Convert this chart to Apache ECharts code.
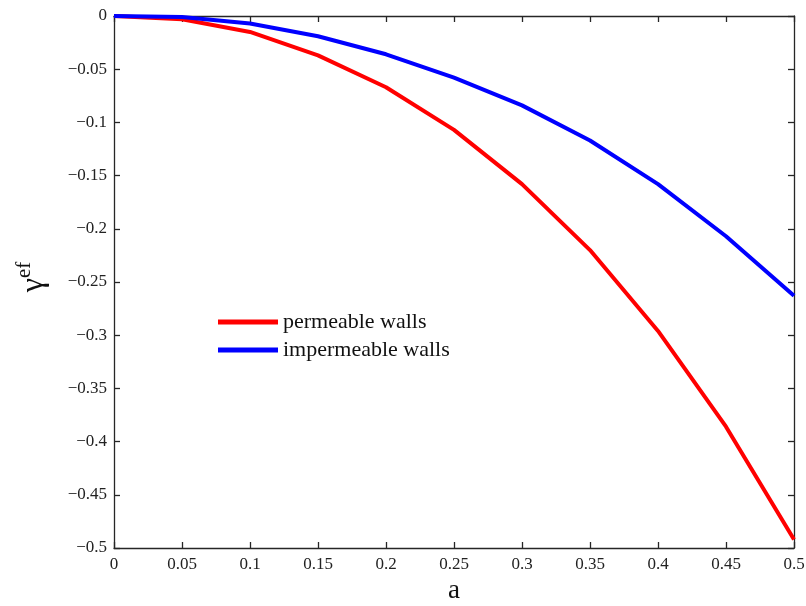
<!DOCTYPE html>
<html>
<head>
<meta charset="utf-8">
<script src="https://cdn.jsdelivr.net/npm/echarts@6/dist/echarts.min.js"></script>
<style>
  html, body { margin: 0; padding: 0; background: #fff; width: 100%; height: 100%; overflow: hidden; }
  #chart { width: 806px; height: 606px; }
</style>
</head>
<body>
<div id="chart"></div>
<script>
// Dimensionless parameter a
const aValues = [0, 0.05, 0.1, 0.15, 0.2, 0.25, 0.3, 0.35, 0.4, 0.45, 0.5];
// Effective coefficient gamma^ef for each wall type
const permeable = [0, -0.003, -0.015, -0.037, -0.067, -0.107, -0.158, -0.220, -0.296, -0.386, -0.492];
const impermeable = [0, -0.001, -0.007, -0.019, -0.036, -0.058, -0.084, -0.117, -0.158, -0.207, -0.263];
const seriesNames = ['permeable walls', 'impermeable walls'];

const axisColor = '#262626';
const font = 'Liberation Serif, Times New Roman, serif';

const chart = echarts.init(document.getElementById('chart'), null, { width: 806, height: 606 });

// Shared styling for the four sides of the boxed frame
const frameAxis = () => ({
  axisLine: { show: true, onZero: false, lineStyle: { color: axisColor, width: 1.3 } },
  axisTick: { show: true, inside: true, length: 6, lineStyle: { color: axisColor, width: 1.3 } },
  splitLine: { show: false }
});

chart.setOption({
  backgroundColor: '#fff',
  animation: false,
  grid: { left: 114, top: 16, width: 680, height: 532, outerBoundsMode: 'none', containLabel: false },
  legend: {
    orient: 'vertical',
    left: 213,
    top: 306,
    itemWidth: 60,
    itemHeight: 5,
    itemGap: 6,
    icon: 'rect',
    textStyle: { fontFamily: font, fontSize: 22, color: '#111' },
    data: seriesNames
  },
  xAxis: [
    Object.assign({
      type: 'value', min: 0, max: 0.5, interval: 0.05, position: 'bottom',
      name: 'a', nameLocation: 'middle', nameGap: 26,
      nameTextStyle: { fontFamily: font, fontSize: 27, color: '#111' },
      axisLabel: {
        fontFamily: font, fontSize: 17, color: '#222', margin: 8,
        formatter: v => String(Math.round(v * 100) / 100)
      }
    }, frameAxis()),
    Object.assign({
      type: 'value', min: 0, max: 0.5, interval: 0.05, position: 'top',
      axisLabel: { show: false }
    }, frameAxis())
  ],
  yAxis: [
    Object.assign({
      type: 'value', min: -0.5, max: 0, interval: 0.05, position: 'left',
      name: '{g|γ}{s|ef}', nameLocation: 'middle', nameGap: 64, nameRotate: 90,
      nameTextStyle: {
        padding: [0, 0, 0, 10],
        rich: {
          g: { fontFamily: font, fontSize: 32, color: '#111', lineHeight: 36, verticalAlign: 'bottom' },
          s: { fontFamily: font, fontSize: 21, color: '#111', lineHeight: 36, verticalAlign: 'top' }
        }
      },
      axisLabel: {
        fontFamily: font, fontSize: 17, color: '#222', margin: 7,
        formatter: v => {
          const r = Math.round(v * 100) / 100;
          return r === 0 ? '0' : '\u2212' + String(Math.abs(r));
        }
      }
    }, frameAxis()),
    Object.assign({
      type: 'value', min: -0.5, max: 0, interval: 0.05, position: 'right',
      axisLabel: { show: false }
    }, frameAxis())
  ],
  series: [
    {
      name: seriesNames[0], type: 'line', xAxisIndex: 0, yAxisIndex: 0,
      showSymbol: false, symbol: 'none',
      lineStyle: { color: '#ff0000', width: 4 }, itemStyle: { color: '#ff0000' },
      data: aValues.map((a, i) => [a, permeable[i]])
    },
    {
      name: seriesNames[1], type: 'line', xAxisIndex: 0, yAxisIndex: 0,
      showSymbol: false, symbol: 'none',
      lineStyle: { color: '#0000ff', width: 4 }, itemStyle: { color: '#0000ff' },
      data: aValues.map((a, i) => [a, impermeable[i]])
    }
  ]
});
</script>
</body>
</html>
